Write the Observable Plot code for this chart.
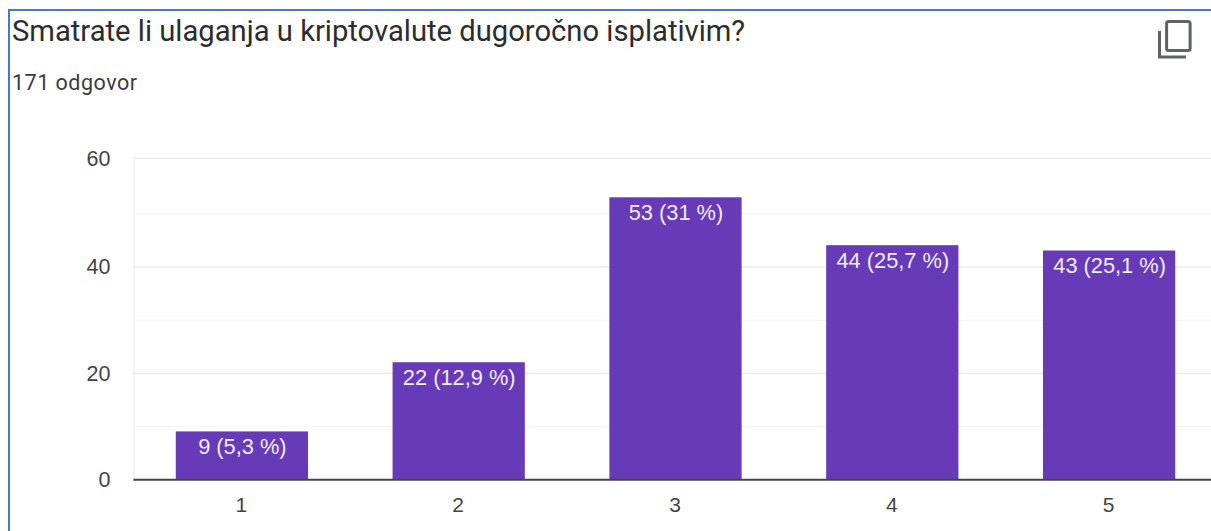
<!DOCTYPE html>
<html>
<head>
<meta charset="utf-8">
<script src="https://cdn.jsdelivr.net/npm/d3@7"></script>
<script src="https://cdn.jsdelivr.net/npm/@observablehq/plot@0.6"></script>
<style>
  html, body { margin: 0; padding: 0; background: #fff; overflow: hidden; width: 1211px; height: 531px; }
  #frame { position: absolute; left: 8px; top: 9px; width: 1300px; height: 600px; border-left: 2px solid #4a76cf; border-top: 2px solid #4a76cf; }
  #title { position: absolute; left: 12px; top: 14px; font: 29.2px "Roboto", sans-serif; color: #2b2c30; white-space: nowrap; line-height: 34px; }
  #sub { position: absolute; left: 12px; top: 70px; font: 21.5px "Roboto", sans-serif; letter-spacing: .5px; color: #3a3b3f; white-space: nowrap; line-height: 26px; }
  #icon { position: absolute; left: 1155px; top: 17px; }
  #chart { position: absolute; left: 0; top: 120px; }
  #chart svg { overflow: hidden; display: block; }
</style>
</head>
<body>
<div id="frame"></div>
<div id="title">Smatrate li ulaganja u kriptovalute dugoročno isplativim?</div>
<div id="sub">171 odgovor</div>
<svg id="icon" width="40" height="44" viewBox="0 0 40 44" fill="none" stroke="#5f6368" stroke-width="3">
  <rect x="11.6" y="4.5" width="23.5" height="29" rx="2"/>
  <path d="M4.5 14 V40 H31"/>
</svg>
<div id="chart"></div>
<script>
const categories = ["1", "2", "3", "4", "5"];
const counts = [9, 22, 53, 44, 43];
const labels = ["9 (5,3 %)", "22 (12,9 %)", "53 (31 %)", "44 (25,7 %)", "43 (25,1 %)"];
const majorTicks = [0, 20, 40, 60];
const minorTicks = [10, 30, 50];

const rows = categories.map((c, i) => ({category: c, count: counts[i], label: labels[i]}));

const chart = Plot.plot({
  width: 1211,
  height: 411,
  marginTop: 37.7,
  marginBottom: 51.7,
  marginLeft: 133.5,
  marginRight: 0,
  style: {background: "transparent", fontFamily: "'Liberation Sans', Arial, sans-serif"},
  x: {type: "band", domain: categories, range: [133.5, 1217.5], paddingInner: 0.39, paddingOuter: 0.195, align: 0.5, round: false, axis: null, label: null},
  y: {type: "linear", domain: [0, 53, 60], range: [359.3, 77.3, 37.7], axis: null, label: null},
  marks: [
    Plot.frame({anchor: "left", stroke: "#f3f3f3", strokeWidth: 2}),
    Plot.ruleY(minorTicks, {stroke: "#f4f4f4", strokeWidth: 1}),
    Plot.ruleY(majorTicks.filter(d => d > 0), {stroke: "#ececec", strokeWidth: 1.5}),
    Plot.barY(rows, {x: "category", y: "count", fill: "#673ab7"}),
    Plot.ruleY([0], {stroke: "#444", strokeWidth: 2}),
    Plot.text(rows, {x: "category", y: "count", text: "label", dy: 15.5, fill: "#f1ecf8", fontSize: 21.8}),
    Plot.axisY({ticks: majorTicks, tickSize: 0, tickPadding: 23.5, dy: 0.5, label: null, fontSize: 21.5, color: "#444", tickFormat: d => String(d), anchor: "left"}),
    Plot.axisX({ticks: categories, tickSize: 0, tickPadding: 17, dx: -1, label: null, fontSize: 21, color: "#444", anchor: "bottom"})
  ]
});
document.getElementById("chart").appendChild(chart);
</script>
</body>
</html>
